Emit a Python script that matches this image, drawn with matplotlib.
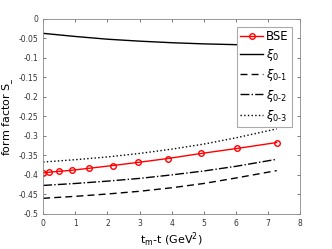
import numpy as np
import matplotlib.pyplot as plt

# BSE points
t_bse = [0.01, 0.19, 0.49, 0.9, 1.44, 2.16, 2.95, 3.88, 4.92, 6.05, 7.27]
s_bse = [-0.395, -0.393, -0.391, -0.388, -0.383, -0.376, -0.368, -0.358, -0.345, -0.332, -0.317]

# fitted curves
t_fit = [0.0, 1.0, 2.0, 3.0, 4.0, 5.0, 6.0, 7.27]
xi0 = [-0.037, -0.045, -0.052, -0.057, -0.061, -0.064, -0.066, -0.068]
xi01 = [-0.460, -0.455, -0.449, -0.442, -0.433, -0.422, -0.408, -0.389]
xi02 = [-0.427, -0.422, -0.416, -0.409, -0.400, -0.390, -0.378, -0.360]
xi03 = [-0.367, -0.361, -0.354, -0.345, -0.334, -0.321, -0.305, -0.282]

fig = plt.figure(figsize=(3.32, 2.49), dpi=100)
ax = fig.add_axes([0.13, 0.141, 0.774, 0.783])

ax.plot(t_bse, s_bse, 'r-o', lw=1.0, ms=4, mfc='none', mew=1.0, label='BSE')
ax.plot(t_fit, xi0, 'k-', lw=1.0, label=r'$\xi_0$')
ax.plot(t_fit, xi01, 'k--', lw=1.0, label=r'$\xi_{0\text{-}1}$', dashes=(5, 3))
ax.plot(t_fit, xi02, 'k-.', lw=1.0, label=r'$\xi_{0\text{-}2}$')
ax.plot(t_fit, xi03, 'k:', lw=1.0, label=r'$\xi_{0\text{-}3}$')

ax.set_xlim(0, 8)
ax.set_ylim(-0.5, 0)
ax.set_xticks(range(0, 9))
yt = np.round(np.arange(-0.5, 0.001, 0.05), 2) + 0.0
ax.set_yticks(yt)
ax.set_yticklabels(['0' if abs(v) < 1e-9 else '%g' % v for v in yt])
ax.tick_params(direction='in', top=True, right=True, labelsize=5.5, length=2.5,
               colors='#444444', labelcolor='#333333', width=0.5)
for s in ax.spines.values():
    s.set_color('#888888')
    s.set_linewidth(0.6)

ax.set_xlabel(r'$\mathregular{t_m}$-t (GeV$^\mathregular{2}$)', fontsize=8, labelpad=2)
ax.set_ylabel(r'form factor S$_\mathregular{\_}$', fontsize=8, labelpad=2)

leg = ax.legend(loc='upper right', fontsize=8.5, handlelength=1.9, borderpad=0.25,
                labelspacing=0.35, handletextpad=0.3, fancybox=False,
                borderaxespad=0.7, framealpha=1)
leg.get_frame().set_edgecolor('#aaaaaa')
leg.get_frame().set_linewidth(0.8)

fig.savefig('out.png', dpi=100)
